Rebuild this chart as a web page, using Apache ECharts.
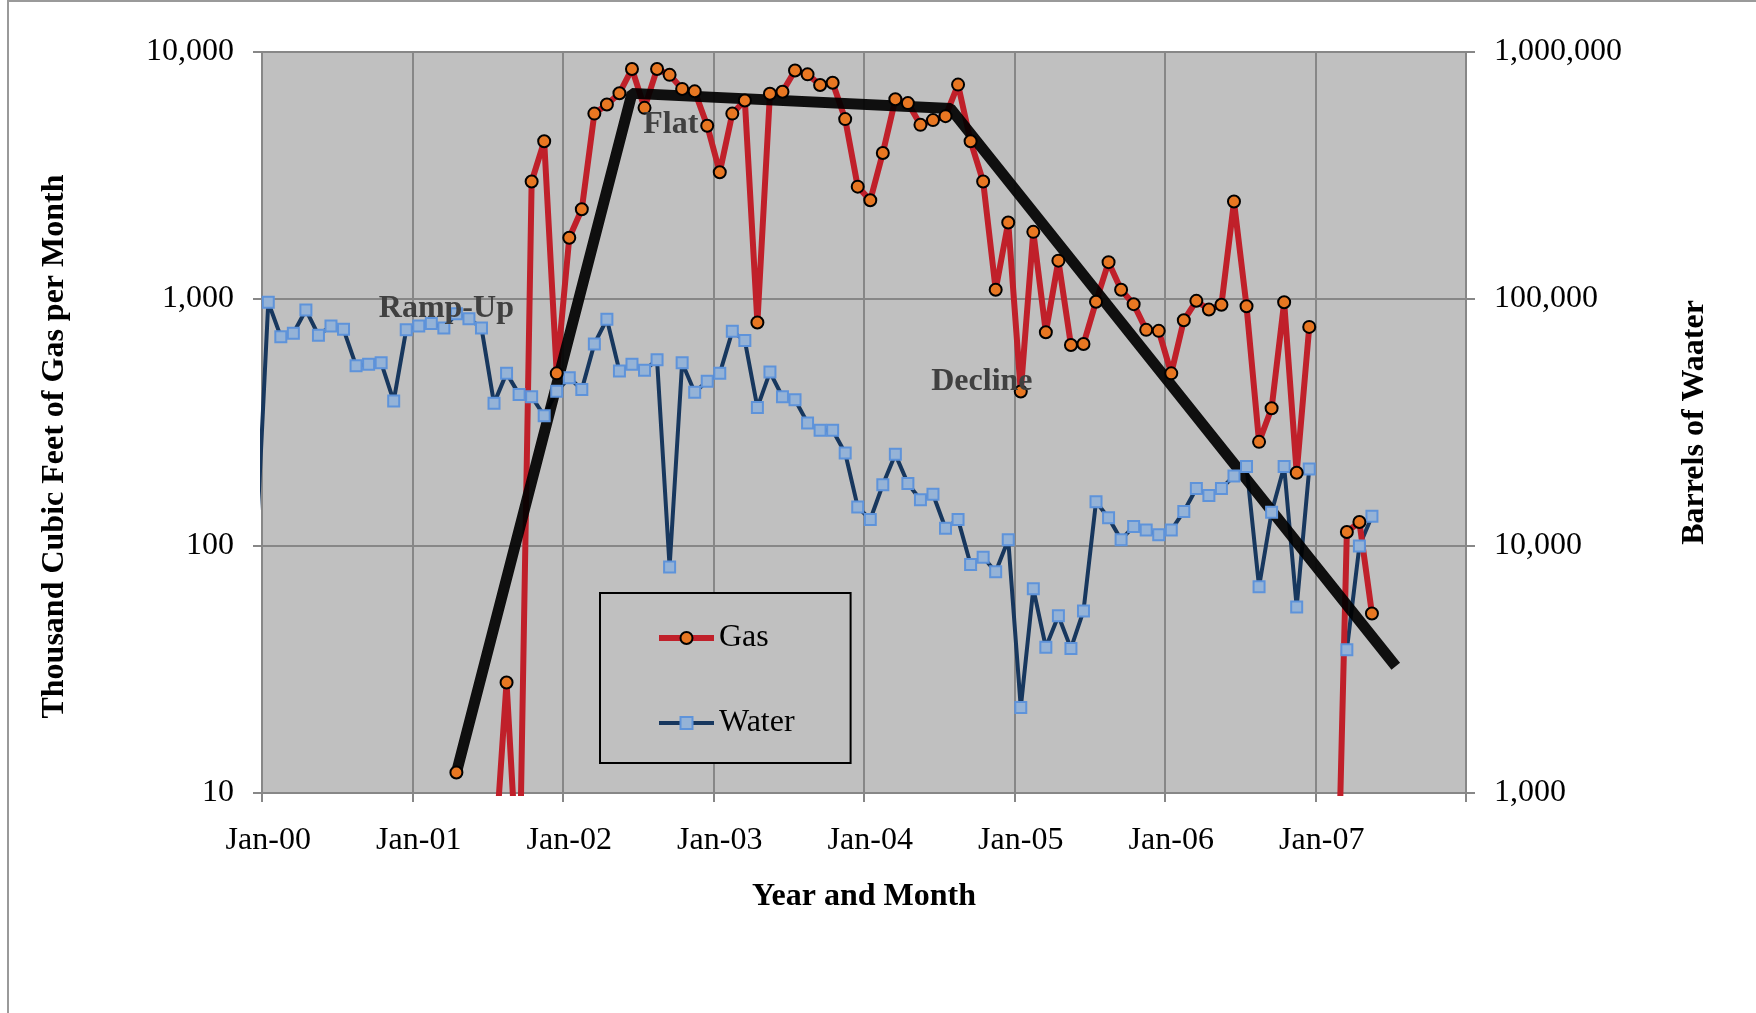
<!DOCTYPE html>
<html>
<head>
<meta charset="utf-8">
<title>Gas and Water per Month</title>
<script src="https://cdn.jsdelivr.net/npm/echarts@6.0.0/dist/echarts.min.js"></script>
<style>
  html, body { margin: 0; padding: 0; background: #ffffff; }
  #main { width: 1756px; height: 1013px; }
</style>
</head>
<body>
<div id="main"></div>
<script>
// monthly values, first entry is Dec-99, last is Apr-07
var firstMonth = -1;

var gas = [
  null,
  null, null, null, null, null, null, null, null, null, null, null, null,
  null, null, null, 12.1, null, null, 5, 28, 3.5, 2990, 4350, 500,
  1770, 2310, 5630, 6130, 6810, 8540, 5940, 8540, 8080, 7090, 6930, 5030,
  3260, 5630, 6360, 803, 6780, 6900, 8420, 8120, 7350, 7510, 5350, 2850,
  2510, 3900, 6440, 6210, 5070, 5300, 5500, 7380, 4350, 2990, 1090, 2040,
  422, 1870, 733, 1430, 651, 657, 975, 1410, 1090, 953, 750, 743,
  500, 820, 983, 906, 948, 2480, 935, 264, 361, 970, 198, 771,
  null, 1, 114, 125, 53.3
];

var water = [
  9000,
  97000, 70400, 72700, 90300, 71400, 77800, 75400, 53700, 54400, 55200, 38600, 75100,
  77800, 79600, 76400, 87100, 83200, 76400, 37800, 50100, 41100, 40200, 33700, 42300,
  48000, 43000, 65800, 82800, 51100, 54400, 51500, 56700, 8230, 55200, 41900, 46500,
  50000, 74000, 67900, 36400, 50600, 40200, 39100, 31500, 29400, 29400, 23800, 14400,
  12800, 17700, 23500, 17900, 15400, 16200, 11800, 12800, 8420, 9010, 7870, 10600,
  2220, 6720, 3890, 5220, 3850, 5460, 15100, 13000, 10600, 12000, 11600, 11100,
  11600, 13800, 17100, 16000, 17100, 19200, 21000, 6840, 13700, 21000, 5660, 20500,
  null, null, 3800, 10000, 13200
];

// hand drawn trend (ramp-up, flat, decline), x in months from Jan-00
var trendMonth = [15.5, 29.5, 54.9, 90.4];
var trendGas = [12.1, 6800, 5900, 32.6];

var xLabels = ['Jan-00', 'Jan-01', 'Jan-02', 'Jan-03', 'Jan-04', 'Jan-05', 'Jan-06', 'Jan-07'];
var gasTickValues = [10, 100, 1000, 10000];
var gasTickLabels = ['10', '100', '1,000', '10,000'];
var waterTickValues = [1000, 10000, 100000, 1000000];
var waterTickLabels = ['1,000', '10,000', '100,000', '1,000,000'];

var notes = ['Ramp-Up', 'Flat', 'Decline'];
var noteMonth = [14.7, 32.6, 57.4];
var noteGas = [912, 5060, 461];

function toPoints(arr) {
  return arr.map(function (v, i) {
    return [firstMonth + i + 0.5, v == null ? '-' : v];
  });
}

function tickLabel(values, labels) {
  return function (v) {
    for (var k = 0; k < values.length; k++) {
      if (Math.abs(Math.log10(v) - Math.log10(values[k])) < 1e-6) return labels[k];
    }
    return '';
  };
}

var serif = '"Liberation Serif", "Times New Roman", serif';
var gridColor = '#878787';
var fs = 32;

var chartDom = document.getElementById('main');
var myChart = echarts.init(chartDom);
var option;

option = {
  animation: false,
  backgroundColor: '#ffffff',
  textStyle: { fontFamily: serif },
  grid: {
    left: 262,
    right: 290,
    top: 52,
    bottom: 220,
    outerBoundsMode: 'none',
    show: true,
    backgroundColor: '#c0c0c0',
    borderWidth: 0
  },
  legend: {
    data: [
      { name: 'Gas', lineStyle: { color: '#c0202a', width: 6 } },
      { name: 'Water', lineStyle: { color: '#17375e', width: 4 } }
    ],
    orient: 'vertical',
    left: 600,
    top: 593,
    padding: [29, 56, 24, 56],
    itemWidth: 55,
    itemHeight: 15,
    itemGap: 53,
    backgroundColor: '#c0c0c0',
    borderColor: '#000000',
    borderWidth: 2,
    selectedMode: false,
    textStyle: { fontFamily: serif, fontSize: fs, color: '#000000' }
  },
  xAxis: {
    type: 'value',
    min: 0,
    max: 96,
    interval: 12,
    name: 'Year and Month',
    nameLocation: 'middle',
    nameGap: 88,
    nameTextStyle: { fontFamily: serif, fontSize: fs, fontWeight: 'bold', color: '#000000' },
    axisLine: { show: true, lineStyle: { color: gridColor, width: 2 } },
    axisTick: { show: true, inside: false, length: 9, lineStyle: { color: gridColor, width: 2 } },
    splitLine: { show: true, lineStyle: { color: gridColor, width: 2 } },
    axisLabel: {
      margin: 32,
      fontFamily: serif,
      fontSize: fs,
      color: '#000000',
      padding: [0, 0, 0, 12.5],
      formatter: function (v) {
        return xLabels[Math.round(v / 12)] || '';
      }
    }
  },
  yAxis: [
    {
      type: 'log',
      logBase: 10,
      min: 10,
      max: 10000,
      position: 'left',
      name: 'Thousand Cubic Feet of Gas per Month',
      nameLocation: 'middle',
      nameRotate: 90,
      nameGap: 191,
      nameTextStyle: {
        fontFamily: serif, fontSize: fs, fontWeight: 'bold', color: '#000000',
        padding: [0, 48, 0, 0]
      },
      axisLine: { show: true, lineStyle: { color: gridColor, width: 2 } },
      axisTick: { show: true, inside: false, length: 9, lineStyle: { color: gridColor, width: 2 } },
      splitLine: { show: true, lineStyle: { color: gridColor, width: 2 } },
      minorTick: { show: false },
      axisLabel: {
        margin: 28,
        fontFamily: serif,
        fontSize: fs,
        color: '#000000',
        formatter: tickLabel(gasTickValues, gasTickLabels)
      }
    },
    {
      type: 'log',
      logBase: 10,
      min: 1000,
      max: 1000000,
      position: 'right',
      name: 'Barrels of Waater',
      nameLocation: 'middle',
      nameRotate: 90,
      nameGap: 213,
      nameTextStyle: { fontFamily: serif, fontSize: fs, fontWeight: 'bold', color: '#000000' },
      axisLine: { show: true, lineStyle: { color: gridColor, width: 2 } },
      axisTick: { show: true, inside: false, length: 9, lineStyle: { color: gridColor, width: 2 } },
      splitLine: { show: false },
      axisLabel: {
        margin: 28,
        fontFamily: serif,
        fontSize: fs,
        color: '#000000',
        formatter: tickLabel(waterTickValues, waterTickLabels)
      }
    }
  ],
  series: [
    {
      name: 'Water',
      type: 'line',
      yAxisIndex: 1,
      data: toPoints(water),
      clip: true,
      connectNulls: false,
      symbol: 'rect',
      symbolSize: 11,
      showAllSymbol: true,
      lineStyle: { color: '#17375e', width: 4 },
      itemStyle: { color: '#95b3d7', borderColor: '#5e93da', borderWidth: 2 }
    },
    {
      name: 'Gas',
      type: 'line',
      yAxisIndex: 0,
      data: toPoints(gas),
      clip: true,
      connectNulls: false,
      symbol: 'circle',
      symbolSize: 12,
      showAllSymbol: true,
      lineStyle: { color: '#c0202a', width: 6 },
      itemStyle: { color: '#e87722', borderColor: '#000000', borderWidth: 2 }
    },
    {
      name: 'Trend',
      type: 'line',
      yAxisIndex: 0,
      data: trendMonth.map(function (m, i) { return [m, trendGas[i]]; }),
      symbol: 'none',
      silent: true,
      lineStyle: { color: '#000000', width: 11, opacity: 0.92 }
    }
  ]
};

option && myChart.setOption(option);

// chart border and the phase labels
var graphics = [{
  type: 'rect',
  shape: { x: 8, y: 1, width: 1800, height: 1100 },
  style: { fill: 'none', stroke: '#9a9a9a', lineWidth: 2 },
  silent: true,
  z: 0
}];
notes.forEach(function (t, i) {
  var p = myChart.convertToPixel({ xAxisIndex: 0, yAxisIndex: 0 }, [noteMonth[i], noteGas[i]]);
  graphics.push({
    type: 'text',
    x: p[0],
    y: p[1],
    silent: true,
    z: 100,
    style: {
      text: t,
      fill: '#404040',
      font: 'bold ' + fs + 'px ' + serif,
      textAlign: 'center',
      textVerticalAlign: 'middle'
    }
  });
});
myChart.setOption({ graphic: graphics });
</script>
</body>
</html>
